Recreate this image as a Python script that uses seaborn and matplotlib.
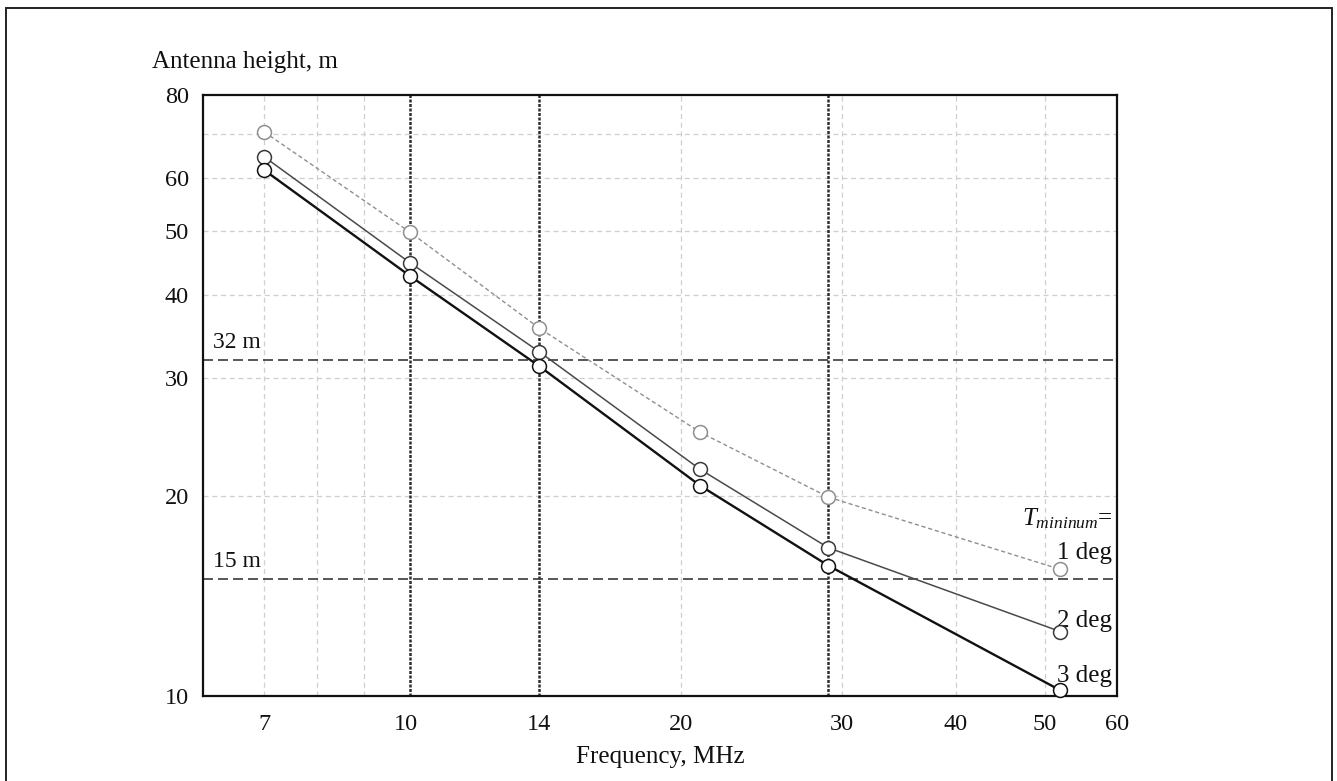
import matplotlib
matplotlib.use("Agg")
import matplotlib.pyplot as plt
import matplotlib.patches as mpatches
from matplotlib.ticker import FixedLocator, NullLocator, FixedFormatter
import numpy as np
import pandas as pd
import seaborn as sns

# Band centre frequencies (MHz) and required antenna heights (m)
freq_mhz = [7.0, 10.1, 14.0, 21.0, 29.0, 52.0]
height_1deg = [70.4, 49.8, 35.7, 24.9, 19.9, 15.5]
height_2deg = [64.6, 44.8, 32.9, 21.9, 16.7, 12.5]
height_3deg = [61.7, 42.8, 31.3, 20.7, 15.7, 10.2]
series_labels = ["1 deg", "2 deg", "3 deg"]

x_ticks = [7, 10, 14, 20, 30, 40, 50, 60]
y_ticks = [10, 20, 30, 40, 50, 60, 80]
x_grid = [7, 8, 9, 20, 30, 40, 50]
y_grid = [20, 30, 40, 50, 60, 70]
band_lines = [10.1, 14.0, 29.0]
ref_heights = [32, 15]
ref_labels = ["32 m", "15 m"]

df = pd.DataFrame({
    "freq": freq_mhz * 3,
    "height": height_1deg + height_2deg + height_3deg,
    "tmin": sum([[lab] * len(freq_mhz) for lab in series_labels], []),
})

sns.set_theme(style="white")
plt.rcParams["font.family"] = ["Liberation Serif", "DejaVu Serif"]
plt.rcParams["mathtext.fontset"] = "custom"
plt.rcParams["mathtext.rm"] = "Liberation Serif"
plt.rcParams["mathtext.it"] = "Liberation Serif:italic"

fig = plt.figure(figsize=(13.37, 7.81), dpi=100)
ax = fig.add_axes([203 / 1337, 1 - 696 / 781, (1117 - 203) / 1337, (696 - 95) / 781])
ax.set_facecolor("white")

ax.set_xscale("log")
ax.set_yscale("log")
ax.set_xlim(6, 60)
ax.set_ylim(10, 80)

# faint background grid
for xv in x_grid:
    ax.axvline(xv, color="#cfcfcf", lw=0.9, ls=(0, (4, 3)), zorder=1)
for yv in y_grid:
    ax.axhline(yv, color="#cfcfcf", lw=0.9, ls=(0, (4, 3)), zorder=1)

# amateur band markers
for xv in band_lines:
    ax.axvline(xv, color="#2e2e2e", lw=1.8, ls=(0, (1.2, 0.6)), zorder=2)

# reference heights
for yv, lab in zip(ref_heights, ref_labels):
    ax.axhline(yv, color="#3a3a3a", lw=1.2, ls=(0, (6, 3)), zorder=2)
    ax.text(6.15, yv * 1.025, lab, fontsize=17, va="bottom", ha="left", color="#111")

styles = {
    "1 deg": dict(color="#8f8f8f", lw=1.0, dashes=(3, 2), mec="#8f8f8f"),
    "2 deg": dict(color="#4a4a4a", lw=1.1, dashes=(None, None), mec="#3a3a3a"),
    "3 deg": dict(color="#111111", lw=1.7, dashes=(None, None), mec="#111111"),
}
for lab in series_labels:
    st = styles[lab]
    sub = df[df["tmin"] == lab]
    line_ax = sns.lineplot(data=sub, x="freq", y="height", ax=ax, color=st["color"],
                           lw=st["lw"], marker="o", markersize=10, markerfacecolor="white",
                           markeredgecolor=st["mec"], markeredgewidth=1.1,
                           legend=False, zorder=4, clip_on=False)
    ln = line_ax.lines[-1]
    if st["dashes"][0] is not None:
        ln.set_dashes(st["dashes"])

ax.xaxis.set_major_locator(FixedLocator(x_ticks))
ax.xaxis.set_major_formatter(FixedFormatter([str(v) for v in x_ticks]))
ax.xaxis.set_minor_locator(NullLocator())
ax.yaxis.set_major_locator(FixedLocator(y_ticks))
ax.yaxis.set_major_formatter(FixedFormatter([str(v) for v in y_ticks]))
ax.yaxis.set_minor_locator(NullLocator())
ax.tick_params(axis="both", length=0, labelsize=17.5, colors="#111")
ax.tick_params(axis="x", pad=13)
ax.tick_params(axis="y", pad=10)

for sp in ax.spines.values():
    sp.set_visible(True)
    sp.set_color("#111")
    sp.set_linewidth(1.6)

ax.set_xlabel("Frequency, MHz", fontsize=18, color="#111", labelpad=8)
ax.set_ylabel("")
fig.text(152 / 1337, 1 - 62 / 781, "Antenna height, m", fontsize=18, color="#111",
         ha="left", va="center")

# curve labels at the right end
ax.text(59.3, 19.3, r"$\mathit{T}_{\mathit{mininum}}$=", fontsize=18, ha="right",
        va="top", color="#111")
label_offsets = [1.02, 1.0, 1.01]
for lab, yv, k in zip(series_labels, [height_1deg[-1], height_2deg[-1], height_3deg[-1]],
                      label_offsets):
    ax.text(59.3, yv * k, lab, fontsize=18, ha="right", va="bottom", color="#111")

# outer frame around the whole figure
fig.patches.append(mpatches.Rectangle((6 / 1337, -0.02), (1332 - 6) / 1337, 1.02 - 8 / 781,
                                      transform=fig.transFigure, fill=False,
                                      edgecolor="#222", lw=1.4))

fig.savefig("out.png", dpi=100, facecolor="white")
